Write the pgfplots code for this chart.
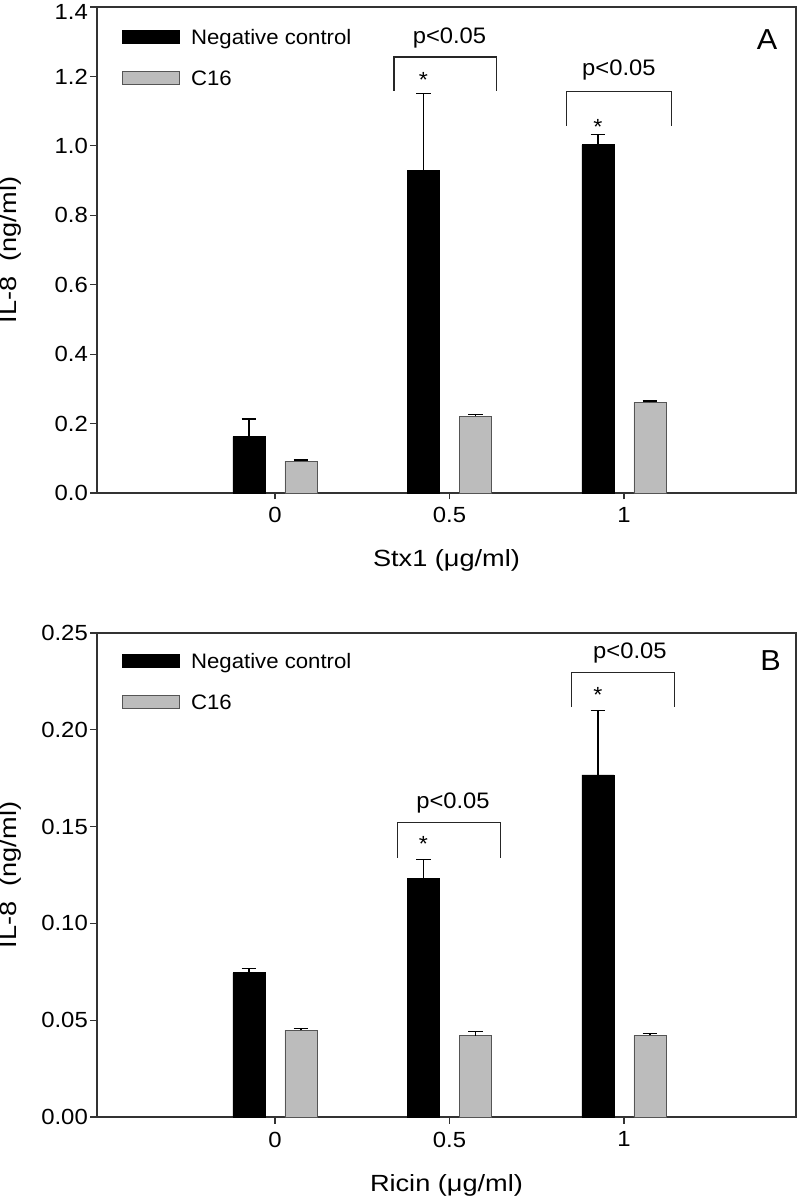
\documentclass[border=0pt]{standalone}
\usepackage{fontspec}
\setmainfont{Liberation Sans}[FakeStretch=1.06]
\newfontfamily\tickfont{Liberation Sans}[FakeStretch=1.09]
\newfontfamily\titlefont{Liberation Sans}[FakeStretch=1.16]
\usepackage{pgfplots}
\usepackage{pgfplotstable}
\pgfplotsset{compat=1.18}

\pgfplotstableread{
x neg negerr c16 c16err
0 0.162 0.051 0.092 0.003
1 0.928 0.222 0.221 0.006
2 1.003 0.029 0.261 0.004
}\dataA
\pgfplotstableread{
x neg negerr c16 c16err
0 0.0745 0.0023 0.0447 0.0010
1 0.1232 0.0100 0.0419 0.0024
2 0.1767 0.0332 0.0422 0.0011
}\dataB

\definecolor{barg}{RGB}{188,188,188}
\definecolor{barge}{RGB}{85,85,85}

\tikzset{
  bracket/.style={line width=1.1bp, black!85},
  ptext/.style={anchor=base, inner sep=0pt, font=\fontsize{22.5}{27}\selectfont},
  star/.style={anchor=base, inner sep=0pt, font=\fontsize{22}{26}\selectfont},
  letter/.style={anchor=base, inner sep=0pt, font=\fontsize{29}{34}\selectfont},
}

\pgfplotsset{
 panel/.style={
  scale only axis, width=699bp,
  xmin=-1.020, xmax=2.986,
  xtick={0,1,2}, xticklabels={0,0.5,1},
  xtick pos=bottom, ytick pos=left,
  tick align=outside, major tick length=6.5bp,
  axis line style={line width=1.3bp, black!80},
  tick style={line width=1.2bp, black!80},
  tick label style={font=\tickfont\fontsize{22}{26}\selectfont},
  /pgf/number format/assume math mode=true,
  yticklabel style={inner sep=0pt, xshift=-2.5bp, /pgf/number format/fixed, /pgf/number format/fixed zerofill},
  xticklabel style={inner sep=0pt, yshift=-8bp},
  label style={font=\titlefont\fontsize{23.5}{28}\selectfont},
  xlabel style={at={(axis description cs:0.5,0)}, anchor=base, yshift=-74bp},
  ylabel style={at={(axis description cs:-0.1145,0.5)}, anchor=base},
  legend image code/.code={\draw[##1] (0bp,-4bp) rectangle (57bp,9bp);},
  legend style={draw=none, fill=none, inner sep=0pt, font=\fontsize{21}{25}\selectfont,
    nodes={inner sep=0pt, text height=15bp, text depth=5bp}, row sep=21bp,
    /tikz/every odd column/.append style={column sep=11bp}, anchor=north west},
  legend cell align=left,
  clip=false,
 },
 negbar/.style={ybar, bar width=32bp, bar shift=0pt, fill=black, draw=black, line width=0.8bp,
   /pgfplots/error bars/y dir=plus, /pgfplots/error bars/y explicit,
   /pgfplots/error bars/error bar style={line width=1.1bp, black},
   /pgfplots/error bars/error mark options={rotate=90, line width=1.1bp, black, mark size=7.3bp}},
 c16bar/.style={ybar, bar width=32bp, bar shift=0pt, fill=barg, draw=barge, line width=0.9bp,
   /pgfplots/error bars/y dir=plus, /pgfplots/error bars/y explicit,
   /pgfplots/error bars/error bar style={line width=1.1bp, black},
   /pgfplots/error bars/error mark options={rotate=90, line width=1.1bp, black, mark size=7.3bp}},
}

\begin{document}
\begin{tikzpicture}[x=1bp,y=1bp]
\path[use as bounding box] (0,0) rectangle (797,1199);
\begin{axis}[panel, at={(97bp,706bp)}, anchor=south west, height=486bp,
  ymin=0, ymax=1.4, ytick={0,0.2,0.4,0.6,0.8,1.0,1.2,1.4},
  yticklabels={0.0,0.2,0.4,0.6,0.8,1.0,1.2,\raisebox{-5bp}[\height][\depth]{1.4}},
  xlabel={Stx1 (μg/ml)}, ylabel={IL-8\ \ (ng/ml)},
  legend style={at={(axis description cs:0.0358,0.9537)}}]
\addplot[negbar] table[x expr=\thisrow{x}-0.149, y=neg, y error=negerr] {\dataA};
\addlegendentry{Negative control}
\addplot[c16bar] table[x expr=\thisrow{x}+0.149, y=c16, y error=c16err] {\dataA};
\addlegendentry{C16}
\draw[bracket] (axis cs:0.682,1.158) -- (axis cs:0.682,1.256) -- (axis cs:1.272,1.256) -- (axis cs:1.272,1.158);
\draw[bracket] (axis cs:1.673,1.058) -- (axis cs:1.673,1.156) -- (axis cs:2.275,1.156) -- (axis cs:2.275,1.058);
\node[ptext] at (axis cs:1.0,1.295) {p<0.05};
\node[ptext] at (axis cs:1.971,1.204) {p<0.05};
\node[star] at (axis cs:0.851,1.168) {*};
\node[star] at (axis cs:1.851,1.034) {*};
\node[letter] at (axis cs:2.82,1.278) {A};
\end{axis}

\begin{axis}[panel, at={(97bp,82bp)}, anchor=south west, height=484bp,
  ymin=0, ymax=0.25, ytick={0,0.05,0.10,0.15,0.20,0.25},
  yticklabel style={/pgf/number format/precision=2},
  xlabel={Ricin (μg/ml)}, ylabel={IL-8\ \ (ng/ml)},
  legend style={at={(axis description cs:0.0358,0.9576)}}]
\addplot[negbar] table[x expr=\thisrow{x}-0.149, y=neg, y error=negerr] {\dataB};
\addlegendentry{Negative control}
\addplot[c16bar] table[x expr=\thisrow{x}+0.149, y=c16, y error=c16err] {\dataB};
\addlegendentry{C16}
\draw[bracket] (axis cs:0.701,0.134) -- (axis cs:0.701,0.1522) -- (axis cs:1.295,0.1522) -- (axis cs:1.295,0.134);
\draw[bracket] (axis cs:1.700,0.2117) -- (axis cs:1.700,0.2297) -- (axis cs:2.292,0.2297) -- (axis cs:2.292,0.2117);
\node[ptext] at (axis cs:1.02,0.1591) {p<0.05};
\node[ptext] at (axis cs:2.034,0.2367) {p<0.05};
\node[star] at (axis cs:0.851,0.1373) {*};
\node[star] at (axis cs:1.851,0.2142) {*};
\node[letter] at (axis cs:2.84,0.2306) {B};
\end{axis}
\end{tikzpicture}
\end{document}
